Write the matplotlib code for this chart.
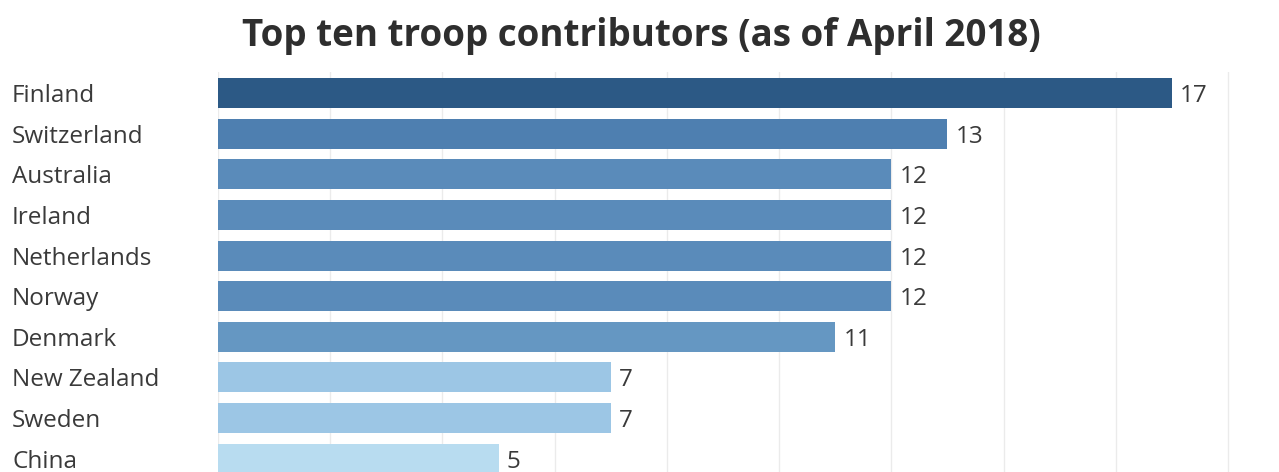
import matplotlib
matplotlib.use("Agg")
import matplotlib.pyplot as plt
import matplotlib.transforms as mtransforms
from matplotlib.ticker import MultipleLocator

countries = ["Finland", "Switzerland", "Australia", "Ireland", "Netherlands",
             "Norway", "Denmark", "New Zealand", "Sweden", "China"]
troops = [17, 13, 12, 12, 12, 12, 11, 7, 7, 5]
bar_colors = ["#2c5985", "#4e7fb0", "#5a8bba", "#5a8bba", "#5a8bba",
              "#5a8bba", "#6597c2", "#9cc6e5", "#9cc6e5", "#b8dcf0"]

title = "Top ten troop contributors (as of April 2018)"

plt.rcParams["font.family"] = ["Open Sans", "DejaVu Sans"]

W, H, DPI = 1279, 472, 100
fig = plt.figure(figsize=(W / DPI, H / DPI), dpi=DPI)

# axes placed in pixel terms: left 218, top 72, running slightly past the bottom edge
left_px, right_px, top_px, bottom_px = 218, 1256, 72, 483
ax = fig.add_axes([left_px / W, 1 - bottom_px / H,
                   (right_px - left_px) / W, (bottom_px - top_px) / H])

ypos = list(range(len(countries)))
ax.barh(ypos, troops, height=0.74, color=bar_colors, zorder=2)

ax.set_xlim(0, 18.5)
ax.set_ylim(9.6, -0.52)
ax.xaxis.set_major_locator(MultipleLocator(2))
ax.grid(axis="x", color="#ebebeb", linewidth=1, zorder=0)
ax.tick_params(axis="x", length=0, labelbottom=False)
ax.tick_params(axis="y", length=0, labelleft=False)
for s in ax.spines.values():
    s.set_visible(False)

text_color = "#3a3a3a"

# category labels at a fixed figure x, aligned to each bar's data y
label_tf = mtransforms.blended_transform_factory(fig.transFigure, ax.transData)
for y, name in zip(ypos, countries):
    ax.text(12 / W, y, name, transform=label_tf, fontsize=17.5, color=text_color,
            va="center_baseline", ha="left", clip_on=False)

for y, v in zip(ypos, troops):
    ax.annotate(str(v), xy=(v, y), xytext=(6, 0), textcoords="offset points",
                fontsize=17.5, color=text_color, va="center_baseline", ha="left")

fig.text(641 / W, 1 - 36 / H, title, fontsize=26.5, fontweight="bold",
         color="#2e2e2e", ha="center", va="center")

fig.savefig("out.png", dpi=DPI)
